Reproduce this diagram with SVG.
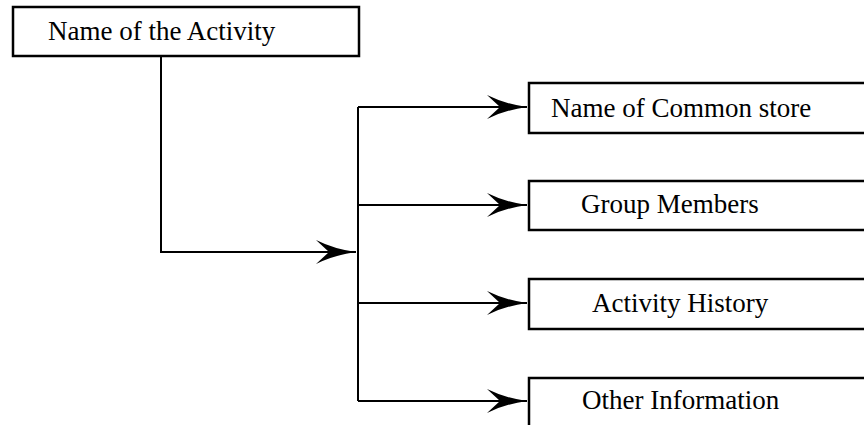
<svg xmlns="http://www.w3.org/2000/svg" width="864" height="425" viewBox="0 0 864 425">
  <style>
    .box { fill: #ffffff; stroke: #000000; stroke-width: 2.5; }
    .lbl { font-family: "Liberation Serif", "Times New Roman", serif; font-size: 27px; fill: #000000; }
    .wire { fill: none; stroke: #000000; stroke-width: 2; }
  </style>
  <defs>
    <marker id="barb" markerUnits="userSpaceOnUse" markerWidth="44" markerHeight="28" viewBox="-42 -14 44 28" refX="0" refY="0" orient="auto">
      <path d="M0,0 Q-22,-3 -40,-12 L-27,0 L-40,12 Q-22,3 0,0 Z" fill="#000000"/>
    </marker>
  </defs>

  <g id="connectors">
    <path class="wire" d="M161,56 V252 H356" marker-end="url(#barb)"/>
    <path class="wire" d="M358,107 V401"/>
    <path class="wire" d="M358,107 H527" marker-end="url(#barb)"/>
    <path class="wire" d="M358,205 H527" marker-end="url(#barb)"/>
    <path class="wire" d="M358,303 H527" marker-end="url(#barb)"/>
    <path class="wire" d="M358,401 H527" marker-end="url(#barb)"/>
  </g>

  <g id="activity">
    <rect class="box" x="13" y="7" width="346" height="49"/>
    <text class="lbl" x="48" y="40">Name of the Activity</text>
  </g>
  <g id="common-store">
    <rect class="box" x="529" y="83" width="360" height="50"/>
    <text class="lbl" x="551" y="117">Name of Common store</text>
  </g>
  <g id="group-members">
    <rect class="box" x="529" y="181" width="360" height="49"/>
    <text class="lbl" x="581" y="213">Group Members</text>
  </g>
  <g id="activity-history">
    <rect class="box" x="529" y="279" width="360" height="50"/>
    <text class="lbl" x="592" y="312">Activity History</text>
  </g>
  <g id="other-information">
    <rect class="box" x="529" y="378" width="360" height="60"/>
    <text class="lbl" x="582" y="409">Other Information</text>
  </g>
</svg>
